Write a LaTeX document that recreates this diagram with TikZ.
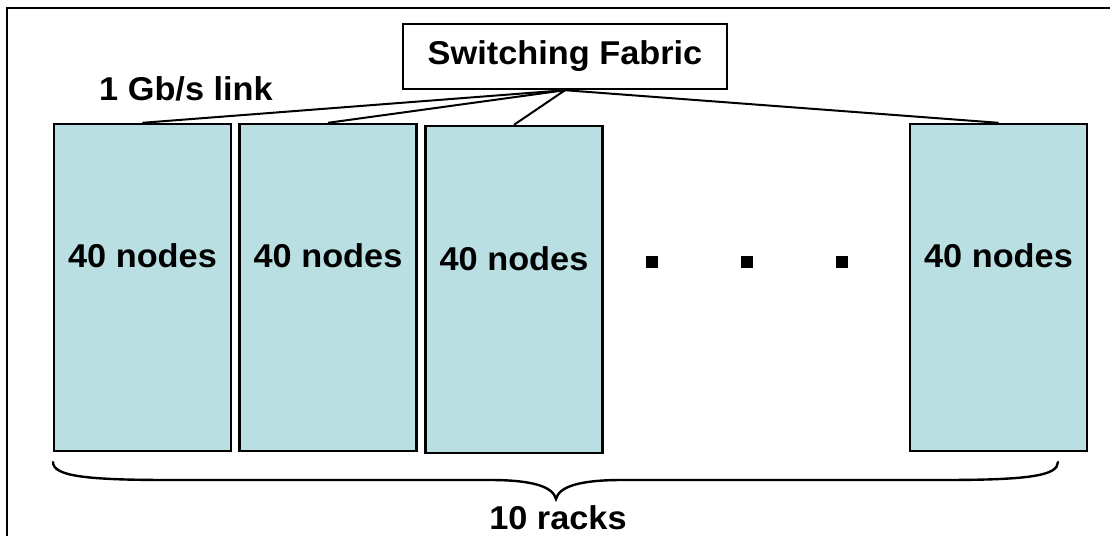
\documentclass[tikz,border=0pt]{standalone}
\usepackage{fontspec}
\setmainfont{Liberation Sans}[FakeStretch=1.04]
\definecolor{rackfill}{RGB}{185,223,226}
\tikzset{
  bigtext/.style={font=\fontsize{33}{38}\selectfont\bfseries},
  rackbox/.style={draw=black, line width=2.4pt, fill=rackfill, minimum width=177pt, minimum height=327pt, inner sep=0pt},
  racklabel/.style={bigtext, inner sep=0pt},
  switchbox/.style={draw=black, line width=2.4pt, fill=white, minimum width=324pt, minimum height=65pt, inner sep=0pt, bigtext},
  link/.style={line width=2pt, black},
  dotsq/.style={fill=black, minimum size=12pt, inner sep=0pt},
  plain/.style={bigtext, inner sep=0pt},
}
\begin{document}
\begin{tikzpicture}[x=1pt, y=-1pt]
\useasboundingbox (0,0) rectangle (1110,536);
% outer frame (top and left sides)
\draw[line width=2pt] (1110,8) -- (7,8) -- (7,536);

% switching fabric
\node[switchbox] (sw) at (565,56.5) {Switching Fabric};
\node[plain] (lnk) at (186,89) {1 Gb/s link};

% racks
\node[rackbox] (r1) at (142.5,287.5) {};
\node[rackbox] (r2) at (328,287.5) {};
\node[rackbox] (r3) at (514,289.5) {};
\node[rackbox] (r4) at (998.5,287.5) {};
\node[racklabel] (t1) at (142.5,256) {40 nodes};
\node[racklabel] (t2) at (328,256) {40 nodes};
\node[racklabel] (t3) at (514,259) {40 nodes};
\node[racklabel] (t4) at (998.5,256) {40 nodes};

% links from the fabric to every rack
\foreach \r in {r1,r2,r3,r4}
  \draw[link] (sw.south) -- (\r.north);

% ellipsis between racks
\node[dotsq] (d1) at (651.5,261.5) {};
\node[dotsq] (d2) at (746.5,261.5) {};
\node[dotsq] (d3) at (841.5,261.5) {};

% brace under the racks
\coordinate (bl) at (53,462);
\coordinate (br) at (1058,462);
\coordinate (tip) at (556,499);
\draw[line width=2.4pt, line cap=round]
  (bl) .. controls (53,476) and (85,480) .. (170,480)
  -- (490,480) .. controls (534,480) and (553,487) .. (tip)
  .. controls (559,487) and (578,480) .. (622,480)
  -- (942,480) .. controls (1027,480) and (1058,476) .. (br);
\node[plain] (cnt) at (558,518) {10 racks};
\end{tikzpicture}
\end{document}
